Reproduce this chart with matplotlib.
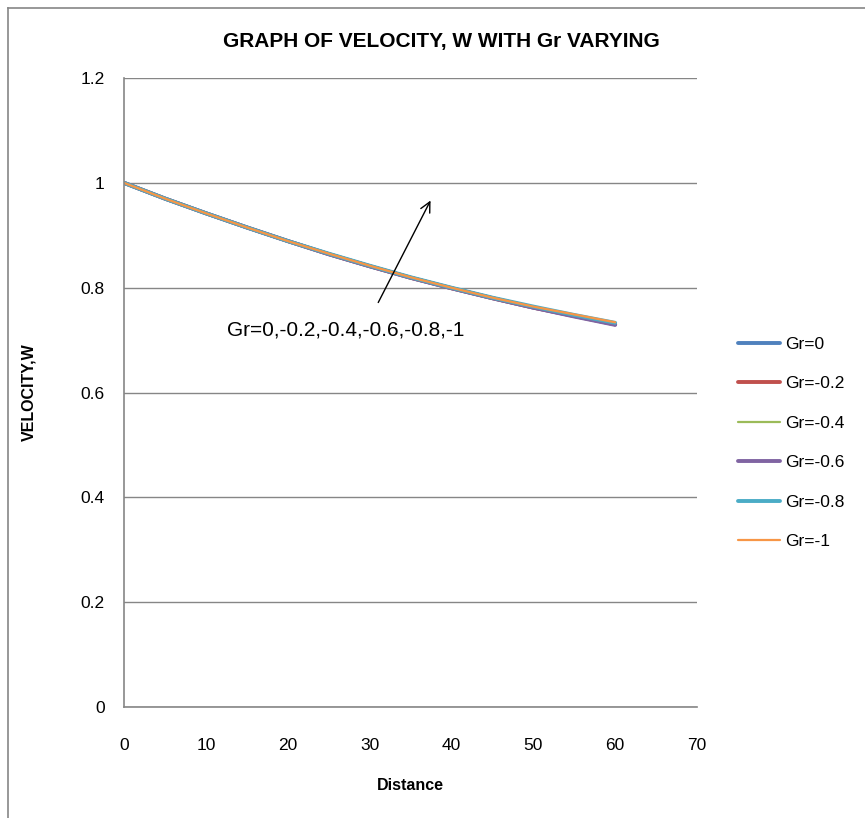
import numpy as np
import matplotlib.pyplot as plt
from matplotlib.lines import Line2D

plt.rcParams['font.family'] = ['Liberation Sans Narrow', 'Liberation Sans', 'DejaVu Sans']

# Daten
distance = [0, 5, 10, 15, 20, 25, 30, 35, 40, 45, 50, 55, 60]
gr_labels = ["Gr=0", "Gr=-0.2", "Gr=-0.4", "Gr=-0.6", "Gr=-0.8", "Gr=-1"]
w_gr0 = [1.000, 0.970, 0.942, 0.915, 0.889, 0.864, 0.841, 0.819, 0.799, 0.780, 0.762, 0.746, 0.730]
w_gr02 = [1.000, 0.970, 0.942, 0.915, 0.889, 0.864, 0.841, 0.819, 0.799, 0.780, 0.762, 0.746, 0.730]
w_gr04 = [1.000, 0.970, 0.942, 0.915, 0.889, 0.864, 0.842, 0.820, 0.800, 0.781, 0.763, 0.747, 0.732]
w_gr06 = [1.000, 0.970, 0.942, 0.915, 0.889, 0.864, 0.841, 0.819, 0.799, 0.780, 0.762, 0.745, 0.729]
w_gr08 = [1.000, 0.970, 0.942, 0.915, 0.889, 0.865, 0.842, 0.820, 0.800, 0.781, 0.764, 0.748, 0.733]
w_gr1 = [1.000, 0.970, 0.942, 0.915, 0.889, 0.865, 0.842, 0.820, 0.800, 0.781, 0.764, 0.749, 0.734]

series = [w_gr0, w_gr02, w_gr04, w_gr06, w_gr08, w_gr1]
colors = ["#4F81BD", "#C0504D", "#9BBB59", "#8064A2", "#4BACC6", "#F79646"]
widths = [2.8, 2.8, 1.6, 2.8, 2.8, 1.6]

fig = plt.figure(figsize=(8.65, 8.18), dpi=100)
ax = fig.add_axes([0.1434, 0.1357, 0.6624, 0.7689])

for vals, lab, c, lw in zip(series, gr_labels, colors, widths):
    ax.plot(distance, vals, color=c, linewidth=lw, label=lab, solid_capstyle="round")

ax.set_xlim(0, 70)
ax.set_ylim(0, 1.2)
ax.set_xticks(range(0, 71, 10))
ax.set_yticks([0, 0.2, 0.4, 0.6, 0.8, 1, 1.2])
ax.set_yticklabels(["0", "0.2", "0.4", "0.6", "0.8", "1", "1.2"])
ax.tick_params(length=0, labelsize=12.5, pad=14)
ax.tick_params(axis='x', pad=22)
ax.grid(axis='y', color="#868686", linewidth=1)
ax.set_axisbelow(True)
for s in ["top", "right"]:
    ax.spines[s].set_visible(False)
for s in ["left", "bottom"]:
    ax.spines[s].set_color("#868686")
    ax.spines[s].set_linewidth(1.2)

ax.set_title("GRAPH OF VELOCITY, W WITH Gr VARYING", fontsize=15, fontweight="bold",
             pad=22, x=0.553)
ax.set_xlabel("Distance", fontsize=11.5, fontweight="bold", labelpad=18)
ax.set_ylabel("VELOCITY,W", fontsize=11.5, fontweight="bold", labelpad=32)

ax.annotate("", xy=(37.6, 0.971), xytext=(30.9, 0.767),
            arrowprops=dict(arrowstyle="->", color="black", lw=1, mutation_scale=18))
ax.text(12.6, 0.719, "Gr=0,-0.2,-0.4,-0.6,-0.8,-1", fontsize=15, va="center")

ax.legend(loc="center left", bbox_to_anchor=(1.045, 0.42), frameon=False,
          fontsize=12.5, handlelength=2.4, labelspacing=1.4, handletextpad=0.3)

# Rahmen des Diagrammbereichs
fig.add_artist(Line2D([0.009, 0.009], [0.0, 0.99], color="#868686", lw=1.2))
fig.add_artist(Line2D([0.009, 1.0], [0.99, 0.99], color="#868686", lw=1.2))

fig.savefig("out.png", dpi=100)
